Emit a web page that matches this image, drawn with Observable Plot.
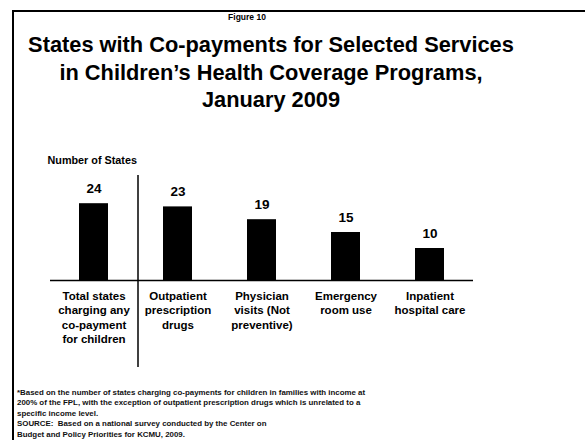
<!DOCTYPE html>
<html><head><meta charset="utf-8">
<script src="https://cdn.jsdelivr.net/npm/d3@7"></script>
<script src="https://cdn.jsdelivr.net/npm/@observablehq/plot@0.6"></script>
<style>
body{margin:0;background:#fff;font-family:"Liberation Sans",Arial,sans-serif;}
#wrap{position:relative;width:585px;height:440px;overflow:hidden;background:#fff;}
#frame{position:absolute;left:12px;top:10px;width:600px;height:460px;border-left:2px solid #000;border-top:2px solid #000;}
#fig{position:absolute;left:0;top:12px;width:494px;text-align:center;font-size:8.5px;font-weight:bold;}
#title{position:absolute;left:0;top:31px;width:542px;text-align:center;font-size:21.8px;font-weight:bold;line-height:27.5px;color:#000;}
#chart{position:absolute;left:0;top:140px;}
#foot{position:absolute;left:17px;top:388px;font-size:7.9px;line-height:10.4px;font-weight:bold;color:#111;white-space:pre;}
</style></head>
<body><div id="wrap">
<div id="frame"></div>
<div id="fig">Figure 10</div>
<div id="title">States with Co-payments for Selected Services<br>in Children’s Health Coverage Programs,<br>January 2009</div>
<div id="chart"></div>
<div id="foot"></div>
</div>
<script>
const categories = [
  "Total states\ncharging any\nco-payment\nfor children",
  "Outpatient\nprescription\ndrugs",
  "Physician\nvisits (Not\npreventive)",
  "Emergency\nroom use",
  "Inpatient\nhospital care"
];
const values = [24, 23, 19, 15, 10];
const yLabel = "Number of States";
const footnotes = [
  "*Based on the number of states charging co-payments for children in families with income at",
  "200% of the FPL, with the exception of outpatient prescription drugs which is unrelated to a",
  "specific income level.",
  "SOURCE:  Based on a national survey conducted by the Center on",
  "Budget and Policy Priorities for KCMU, 2009."
];

const data = categories.map((c, i) => ({category: c, value: values[i]}));

const chart = Plot.plot({
  width: 585,
  height: 240,
  marginLeft: 50,
  marginRight: 112,
  marginTop: 44,
  marginBottom: 100,
  style: {fontFamily: "'Liberation Sans', Arial, sans-serif", color: "#000", background: "transparent"},
  x: {domain: categories, paddingInner: 0.655, paddingOuter: 0.33},
  y: {domain: [0, 30], axis: null},
  marks: [
    Plot.barY(data, {x: "category", y: "value", fill: "#000"}),
    Plot.text(data, {x: "category", y: "value", text: d => String(d.value), dy: -15, fontSize: 13.5, fontWeight: "bold", fill: "#000"}),
    Plot.ruleY([0], {stroke: "#000", strokeWidth: 1.5}),
    Plot.ruleX([categories[0]], {dx: 44, stroke: "#000", strokeWidth: 1.5, insetTop: -9, insetBottom: -87}),
    Plot.axisX({tickSize: 0, tickPadding: 10, fontSize: 11.5, fontWeight: "bold", lineHeight: 1.22, label: null}),
    Plot.text([yLabel], {frameAnchor: "top-left", dx: -3, dy: -28, textAnchor: "start", fontSize: 10.8, fontWeight: "bold", fill: "#000"})
  ]
});
document.getElementById("chart").appendChild(chart);
document.getElementById("foot").textContent = footnotes.join("\n");
</script>
</body></html>
